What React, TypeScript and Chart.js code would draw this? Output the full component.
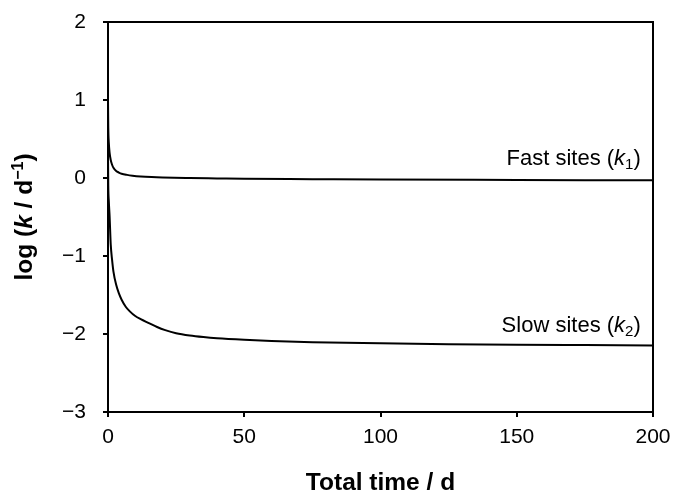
import React, { useEffect, useRef } from 'react';
import { Chart, registerables } from 'chart.js';

Chart.register(...registerables);

// ---- Data ----
const timeFast = [0, 0.1, 0.3, 0.6, 1, 1.5, 2, 3, 4, 5, 7, 9, 12, 16, 20, 30, 40, 50, 75, 100, 150, 200];
const logK1 = [1.0, 0.65, 0.45, 0.32, 0.23, 0.17, 0.13, 0.09, 0.07, 0.055, 0.04, 0.03, 0.02, 0.012, 0.007, 0.0, -0.005, -0.01, -0.015, -0.02, -0.025, -0.03];

const timeSlow = [0, 0.1, 0.3, 0.6, 1, 1.5, 2, 3, 4, 5, 6.5, 8, 10, 12, 15, 18, 21, 25, 30, 35, 40, 50, 60, 75, 100, 125, 150, 175, 200];
const logK2 = [0.3, -0.1, -0.3, -0.5, -0.85, -1.05, -1.2, -1.37, -1.48, -1.56, -1.65, -1.71, -1.77, -1.81, -1.86, -1.91, -1.95, -1.99, -2.02, -2.04, -2.055, -2.075, -2.09, -2.105, -2.12, -2.13, -2.137, -2.142, -2.147];

const xTickValues = [0, 50, 100, 150, 200];
const yTickValues = [-3, -2, -1, 0, 1, 2];

const seriesNames = ['Fast sites', 'Slow sites'];
const seriesSubs = ['1', '2'];
const labelX = [195.5, 195.5];
const labelY = [0.17, -1.97];

const xTitle = 'Total time / d';

const FONT = '"Liberation Sans", Arial, Helvetica, sans-serif';

type Seg = { t: string; size: number; bold?: boolean; italic?: boolean; dy?: number };

function fontOf(s: Seg) {
  return `${s.italic ? 'italic ' : ''}${s.bold ? 'bold ' : ''}${s.size}px ${FONT}`;
}

function drawRich(ctx: CanvasRenderingContext2D, segs: Seg[], x: number, y: number, align: 'left' | 'center' | 'right') {
  let total = 0;
  const widths: number[] = [];
  for (const s of segs) {
    ctx.font = fontOf(s);
    const w = ctx.measureText(s.t).width;
    widths.push(w);
    total += w;
  }
  let cx = align === 'right' ? x - total : align === 'center' ? x - total / 2 : x;
  ctx.textAlign = 'left';
  ctx.textBaseline = 'alphabetic';
  segs.forEach((s, i) => {
    ctx.font = fontOf(s);
    ctx.fillText(s.t, cx, y + (s.dy || 0));
    cx += widths[i];
  });
}

const decorPlugin = {
  id: 'decor',
  afterDraw(chart: any) {
    const { ctx, chartArea } = chart;
    const xs = chart.scales.x;
    const ys = chart.scales.y;
    ctx.save();
    // frame
    ctx.strokeStyle = '#000';
    ctx.lineWidth = 2;
    ctx.strokeRect(chartArea.left, chartArea.top, chartArea.right - chartArea.left, chartArea.bottom - chartArea.top);
    ctx.fillStyle = '#000';

    // series labels
    seriesNames.forEach((name, i) => {
      const px = xs.getPixelForValue(labelX[i]);
      const py = ys.getPixelForValue(labelY[i]);
      drawRich(ctx, [
        { t: name + ' (', size: 22 },
        { t: 'k', size: 22, italic: true },
        { t: seriesSubs[i], size: 15, dy: 4 },
        { t: ')', size: 22 },
      ], px, py, 'right');
    });

    // x title
    drawRich(ctx, [{ t: xTitle, size: 24.5, bold: true }], (chartArea.left + chartArea.right) / 2, 490, 'center');

    // y title
    ctx.translate(32, (chartArea.top + chartArea.bottom) / 2);
    ctx.rotate(-Math.PI / 2);
    drawRich(ctx, [
      { t: 'log (', size: 24.5, bold: true },
      { t: 'k', size: 24.5, bold: true, italic: true },
      { t: ' / d', size: 24.5, bold: true },
      { t: '\u22121', size: 16, bold: true, dy: -9 },
      { t: ')', size: 24.5, bold: true },
    ], 0, 0, 'center');
    ctx.restore();
  },
};

export default function App() {
  const ref = useRef<HTMLCanvasElement | null>(null);
  useEffect(() => {
    if (!ref.current) return;
    const chart = new Chart(ref.current, {
      type: 'scatter',
      data: {
        datasets: [
          {
            label: seriesNames[0],
            data: timeFast.map((t, i) => ({ x: t, y: logK1[i] })),
            showLine: true,
            borderColor: '#000',
            borderWidth: 2,
            pointRadius: 0,
            cubicInterpolationMode: 'monotone',
          },
          {
            label: seriesNames[1],
            data: timeSlow.map((t, i) => ({ x: t, y: logK2[i] })),
            showLine: true,
            borderColor: '#000',
            borderWidth: 2,
            pointRadius: 0,
            cubicInterpolationMode: 'monotone',
          },
        ],
      },
      options: {
        responsive: false,
        animation: false,
        devicePixelRatio: window.devicePixelRatio || 1,
        layout: { padding: { top: 22, right: 22, left: 0, bottom: 0 } },
        plugins: { legend: { display: false }, tooltip: { enabled: false } },
        scales: {
          x: {
            type: 'linear',
            min: 0,
            max: 200,
            afterFit: (s: any) => { s.height = 79; s.paddingLeft = 0; s.paddingRight = 0; },
            afterBuildTicks: (s: any) => { s.ticks = xTickValues.map((v) => ({ value: v })); },
            border: { display: false },
            grid: { drawOnChartArea: false, drawTicks: true, tickLength: 5, color: '#000', lineWidth: 2 },
            ticks: { color: '#000', font: { family: FONT, size: 21 }, padding: 8, maxRotation: 0 },
          },
          y: {
            type: 'linear',
            min: -3,
            max: 2,
            afterFit: (s: any) => { s.width = 108; s.paddingTop = 0; s.paddingBottom = 0; },
            afterBuildTicks: (s: any) => { s.ticks = yTickValues.map((v) => ({ value: v })); },
            border: { display: false },
            grid: { drawOnChartArea: false, drawTicks: true, tickLength: 5, color: '#000', lineWidth: 2 },
            ticks: {
              color: '#000',
              font: { family: FONT, size: 21 },
              padding: 17,
              callback: (v: any) => (Number(v) < 0 ? '\u2212' + Math.abs(Number(v)) : String(v)),
            },
          },
        },
      },
      plugins: [decorPlugin],
    } as any);
    return () => chart.destroy();
  }, []);
  return (
    <div style={{ position: 'absolute', left: 0, top: 0, width: 675, height: 491, background: '#fff' }}>
      <canvas ref={ref} width={675} height={491} style={{ display: 'block', width: 675, height: 491 }} />
    </div>
  );
}
